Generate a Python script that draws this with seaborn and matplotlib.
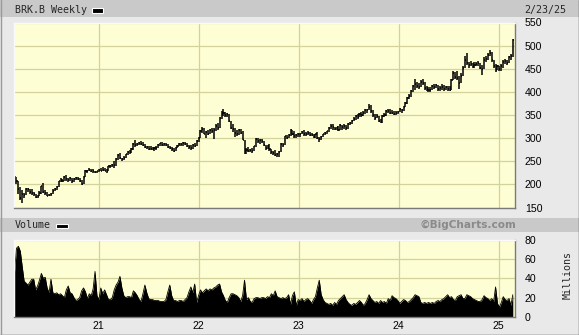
import matplotlib
matplotlib.use("Agg")
import matplotlib.pyplot as plt
import pandas as pd
import seaborn as sns
from matplotlib.patches import Rectangle
from matplotlib.lines import Line2D

# ---------------- data (weekly) ----------------
title_text = "BRK.B Weekly"
date_text = "2/23/25"
first_week = "2020-02-28"

high_2020 = [218,215,207,195,188,182,193,192,190,190,184,180,178,185,197,203,188,183,180,182,189,193,196,208,213,
             212,218,220,214,216,213,214,216,215,213,210,218,232,232,236,233,233,230,230,233]
low_2020 = [201,200,180,166,159,171,178,183,180,178,175,170,170,174,180,182,178,174,174,175,179,185,187,195,205,
            205,207,208,205,207,203,205,209,209,206,198,200,215,225,228,226,225,224,225,226]
close_2020 = [206,208,190,170,180,176,191,189,184,182,179,172,175,181,196,184,182,175,178,180,186,190,195,207,209,
              208,216,212,210,214,207,212,214,211,208,200,217,229,228,232,229,228,226,228,232]

high_2021 = [236,237,235,233,240,242,245,250,258,265,267,258,261,266,272,274,278,289,295,290,292,294,291,287,282,282,
             282,281,280,282,288,290,291,290,289,287,283,281,278,281,285,289,290,292,292,289,286,285,288,290,295,302]
low_2021 = [228,229,228,225,228,236,237,236,240,252,255,250,252,256,264,266,268,275,281,283,285,285,284,278,276,275,
            275,274,272,275,279,284,283,283,282,279,276,273,270,272,278,283,284,283,285,281,277,275,277,280,282,292]
close_2021 = [230,232,229,228,239,240,242,241,255,263,258,255,258,265,271,270,276,288,286,287,289,288,285,280,280,277,
              277,276,278,279,286,289,285,287,285,281,278,276,273,279,284,287,287,289,287,283,280,278,285,284,293,300]

high_2022 = [318,323,322,316,318,320,322,322,330,332,345,358,362,357,355,353,338,330,322,318,320,320,316,297,278,280,
             277,278,284,300,300,298,298,294,286,285,288,277,273,275,268,272,290,290,305,307,310,320,318,315,310,311]
low_2022 = [300,312,308,300,306,310,312,298,315,318,322,342,348,346,345,335,320,314,303,305,306,308,295,265,265,270,
            270,268,272,280,290,288,290,282,275,276,273,266,264,262,259,260,270,280,285,298,300,305,306,300,300,302]
close_2022 = [315,320,310,313,310,318,316,318,327,322,343,355,354,350,352,337,322,320,312,310,317,312,297,272,275,273,
              275,272,282,298,293,295,293,285,278,283,276,270,267,264,265,270,288,285,304,300,307,318,310,305,306,309]

high_2023 = [312,316,317,313,316,313,311,308,310,313,303,305,310,313,316,323,330,330,325,325,326,330,328,330,328,332,
             335,340,345,350,352,355,356,358,362,364,373,372,360,352,352,348,342,350,354,360,362,362,360,359,358,359]
low_2023 = [303,308,305,305,307,304,304,300,301,298,292,296,302,306,309,314,320,318,318,318,315,317,318,320,318,320,
            328,330,336,340,342,345,346,348,352,355,360,355,345,340,343,335,332,333,345,348,355,352,352,350,350,353]
close_2023 = [310,314,308,310,312,306,307,302,308,300,298,302,309,311,315,322,327,323,320,323,318,328,325,326,322,330,
              332,338,342,348,346,352,350,355,360,360,368,358,350,344,348,337,335,348,350,358,358,355,355,353,354,357]

high_2024 = [366,364,370,378,388,395,405,415,428,422,420,425,428,422,412,410,410,415,418,418,415,412,416,414,413,412,
             412,428,445,442,445,435,440,455,478,484,465,466,462,465,465,466,462,458,475,478,485,490,486,470,460,458,456]
low_2024 = [356,355,358,367,374,385,390,400,405,408,406,410,415,405,402,400,400,403,406,408,402,402,405,402,404,402,
            402,404,425,428,425,406,420,435,452,458,452,455,452,452,455,456,450,437,450,465,470,478,465,452,442,448,445]
close_2024 = [362,360,368,375,386,392,402,412,418,412,410,422,420,408,406,404,405,412,410,414,406,408,410,406,410,407,
              404,425,440,432,430,420,435,452,470,462,458,460,455,458,460,463,452,450,470,472,480,484,468,455,448,455,450]

high_2025 = [460,468,472,470,478,482,515]
low_2025 = [445,452,460,458,462,470,476]
close_2025 = [455,465,466,462,476,478,512]

volume_millions = [
    47,71,73,68,52,37,35,33,36,39, 39,28,32,38,45,40,41,30,25,39,
    25,24,25,23,24,22,20,28,32,25, 24,20,17,18,20,27,30,26,19,24,
    22,29,47,22,18,30,24,28,23,18, 18,20,28,33,36,42,30,22,20,21,
    21,20,27,25,22,18,16,24,33,25, 19,18,18,17,17,17,16,16,16,18,
    26,33,22,17,17,16,17,17,16,18, 20,26,31,25,34,15,22,28,25,27,
    29,27,29,28,30,31,33,34,26,22, 17,15,20,24,24,23,22,20,16,22,
    38,18,20,16,15,19,20,20,19,20, 20,19,21,20,24,22,27,21,20,19,
    20,19,20,23,13,22,26,12,18,17, 19,16,18,19,17,14,18,21,30,38,
    23,18,15,14,13,14,12,15,13,17, 19,21,23,18,15,13,12,14,13,15,
    17,15,12,14,18,23,19,17,15,16, 14,17,15,16,14,19,17,22,20,19,
    17,14,16,18,17,15,16,18,20,23, 22,21,15,14,15,14,15,14,15,14,
    16,17,16,18,19,21,23,20,21,18, 17,21,22,23,19,19,23,22,21,19,
    18,17,16,16,18,22,20,19,17,19, 16,31,14,10,15,21,18,17,19,12,
    23]

price_ticks = [150, 200, 250, 300, 350, 400, 450, 500, 550]
volume_ticks = [0, 20, 40, 60, 80]
year_ticks = ["2021-01-01", "2022-01-01", "2023-01-01", "2024-01-01", "2025-01-01"]
year_labels = ["21", "22", "23", "24", "25"]

highs = high_2020 + high_2021 + high_2022 + high_2023 + high_2024 + high_2025
lows = low_2020 + low_2021 + low_2022 + low_2023 + low_2024 + low_2025
closes = close_2020 + close_2021 + close_2022 + close_2023 + close_2024 + close_2025

dates = pd.date_range(first_week, periods=len(closes), freq="W-FRI")
df = pd.DataFrame({"date": dates, "high": highs, "low": lows, "close": closes,
                   "volume": volume_millions})

# ---------------- styling ----------------
sns.set_theme(style="white")
plt.rcParams["font.family"] = ["Liberation Sans", "DejaVu Sans"]

W, H = 579, 335
BG = "#e9e9e9"
BAR = "#c9c9c9"
PANEL = "#fefed4"
GRID = "#d2d29a"
MONO = "DejaVu Sans Mono"

fig = plt.figure(figsize=(W / 100, H / 100), dpi=100, facecolor=BG)

def fx(px):
    return px / W

def fy(py):
    return 1 - py / H

# title bar and volume bar
fig.patches.append(Rectangle((0, fy(17)), 1, 17 / H, transform=fig.transFigure,
                             facecolor=BAR, edgecolor="none", zorder=0))
fig.patches.append(Rectangle((0, fy(232)), 1, 14 / H, transform=fig.transFigure,
                             facecolor=BAR, edgecolor="none", zorder=0))
# outer frame
fig.lines.append(Line2D([fx(578.5), fx(578.5)], [0, 1], transform=fig.transFigure, color="#404040", lw=1))
fig.lines.append(Line2D([0, 1], [fy(334.5), fy(334.5)], transform=fig.transFigure, color="#404040", lw=1))
fig.lines.append(Line2D([fx(0.5), fx(0.5)], [0, 1], transform=fig.transFigure, color="#9a9a9a", lw=1))

xlim = (pd.Timestamp("2020-02-26"), pd.Timestamp("2025-03-01"))

def style_panel(ax):
    ax.set_facecolor(PANEL)
    ax.grid(True, color=GRID, lw=0.9)
    ax.set_axisbelow(True)
    for side in ["top", "left"]:
        ax.spines[side].set_color("#fafafa")
        ax.spines[side].set_linewidth(1)
    for side in ["bottom", "right"]:
        ax.spines[side].set_color("#7a7a7a")
        ax.spines[side].set_linewidth(1)
    ax.yaxis.tick_right()
    ax.tick_params(axis="both", length=0, labelsize=7.6, colors="black")
    ax.tick_params(axis="y", pad=7)
    ax.set_xlim(*xlim)
    ax.set_xticks(pd.to_datetime(year_ticks))
    ax.set_xlabel("")
    ax.set_ylabel("")

# ---------------- price panel ----------------
ax1 = fig.add_axes([fx(14), fy(207.5), 501 / W, 185 / H])
style_panel(ax1)
ax1.vlines(df["date"], df["low"], df["high"], color="black", lw=1.1)
ax1.hlines(df["close"], df["date"], df["date"] + pd.Timedelta(days=4), color="black", lw=1.1)
ax1.set_ylim(150, 550)
ax1.set_yticks(price_ticks)
ax1.set_yticklabels([str(v) for v in price_ticks])
ax1.set_xticklabels([])

# ---------------- volume panel ----------------
ax2 = fig.add_axes([fx(14), fy(317), 501 / W, 77.5 / H])
style_panel(ax2)
ax2.fill_between(df["date"], 0, df["volume"], color="black", lw=0)
sns.lineplot(data=df, x="date", y="volume", ax=ax2, color="black", lw=0.6)
ax2.set_ylim(0, 80)
ax2.set_yticks(volume_ticks)
ax2.set_yticklabels([str(v) for v in volume_ticks])
ax2.set_xticks(pd.to_datetime(year_ticks))
ax2.set_xticklabels(year_labels)
ax2.tick_params(axis="x", pad=3)
ax2.set_xlim(*xlim)
ax2.set_xlabel("")
ax2.set_ylabel("")

# ---------------- texts ----------------
fig.text(fx(15), fy(10), title_text, family=MONO, fontsize=7.2, va="center", ha="left")
fig.patches.append(Rectangle((fx(92), fy(12.5)), 11 / W, 4.5 / H, transform=fig.transFigure,
                             facecolor="black", edgecolor="white", lw=0.8))
fig.text(fx(566), fy(10), date_text, family=MONO, fontsize=7.2, va="center", ha="right")

fig.text(fx(15), fy(225.5), "Volume", family=MONO, fontsize=7.2, va="center", ha="left")
fig.patches.append(Rectangle((fx(56), fy(228)), 12 / W, 4.5 / H, transform=fig.transFigure,
                             facecolor="black", edgecolor="white", lw=0.8))
fig.text(fx(516), fy(225), "©BigCharts.com", fontsize=7.6, fontweight="bold",
         color="#8a8a8a", va="center", ha="right", family=["DejaVu Sans"])
fig.text(fx(567.5), fy(275), "Millions", family=MONO, fontsize=7.2, rotation=90,
         va="center", ha="center")

fig.savefig("out.png", dpi=100, facecolor=BG)
